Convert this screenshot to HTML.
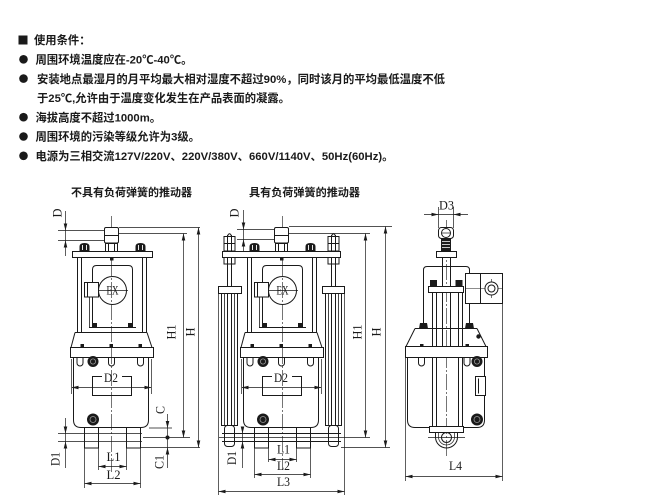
<!DOCTYPE html>
<html><head><meta charset="utf-8">
<style>
html,body{margin:0;padding:0;background:#fff;}
svg{display:block;}
.t{font-family:"Liberation Sans","Noto Sans CJK SC",sans-serif;font-size:11.3px;font-weight:bold;fill:#1a1a1a;}
.tt{font-family:"Liberation Sans","Noto Sans CJK SC",sans-serif;font-size:11px;font-weight:bold;fill:#1a1a1a;}
.s{font-family:"Liberation Serif","DejaVu Serif",serif;font-size:13px;fill:#1a1a1a;}
</style></head><body>
<svg width="650" height="504" viewBox="0 0 650 504" xmlns="http://www.w3.org/2000/svg">
<defs>
<g id="lower" fill="none" stroke="#1a1a1a" stroke-width="1">
 <path d="M75,332.5 H147 M75,332.5 L71,347.5 M147,332.5 L152,347.5"/>
 <rect x="70.5" y="347.5" width="83" height="10"/>
 <path d="M77,357.5 V363 A3,3 0 0 0 83,363 V357.5 M108.5,357.5 V363 A3,3 0 0 0 114.5,363 V357.5 M137.5,357.5 V363 A3,3 0 0 0 143.5,363 V357.5"/>
 <path d="M73.5,357.5 V420 Q73.5,427.5 81,427.5 H141 Q148.5,427.5 148.5,420 V357.5"/>
 <path d="M102,376.5 H92.5 V395.5 H131.5 V376.5 H122"/>
 <path d="M72,387.5 H151 M71.5,359 V394 M151.5,359 V394" stroke-width="0.7"/>
 <rect x="84.5" y="427.5" width="14" height="20.5"/>
 <rect x="126.5" y="427.5" width="14" height="20.5"/>
 <g fill="#1a1a1a" stroke="none">
  <rect x="80.5" y="344" width="3.5" height="3.5"/>
  <rect x="109.5" y="344" width="3.5" height="3.5"/>
  <rect x="138.5" y="344" width="3.5" height="3.5"/>
  <polygon points="78.5,385.7 78.5,389.3 71.5,387.5"/>
  <polygon points="144.5,385.7 144.5,389.3 151.5,387.5"/>
  <circle cx="93" cy="361.5" r="5.5"/>
  <circle cx="93" cy="419.5" r="6"/>
 </g>
 <circle cx="93" cy="361.5" r="2.6" stroke="#999" stroke-width="0.8"/>
 <circle cx="93" cy="419.5" r="3" stroke="#999" stroke-width="0.8"/>
</g>
<g id="frame" fill="none" stroke="#1a1a1a" stroke-width="1">
 <path d="M77.5,257.5 V332.5 M81.5,257.5 V332.5 M142.5,257.5 V332.5 M146.5,257.5 V332.5"/>
 <path d="M92.5,327.5 V269.5 Q92.5,265.5 96.5,265.5 H128.5 Q132.5,265.5 132.5,269.5 V327.5"/>
 <path d="M89.5,297 V327.5" stroke-width="0.8"/>
 <path d="M89,327.5 H136"/>
 <circle cx="112.5" cy="290.5" r="14"/>
 <path d="M84,290.5 H128" stroke-width="0.7"/>
 <rect x="84.5" y="282.5" width="14" height="14.5" fill="#fff"/>
 <path d="M87.5,282.5 V297"/>
 <rect x="104.5" y="227.5" width="14" height="15.5" rx="1.5" fill="#fff"/>
 <path d="M104.5,235.5 H118.5"/>
 <rect x="105.5" y="243.5" width="12" height="8" fill="#fff"/>
 <path d="M108.5,243.5 V251.5 M114.5,243.5 V251.5"/>
 <g fill="#1a1a1a" stroke="none">
  <rect x="93" y="323" width="4" height="4"/>
  <rect x="128" y="323" width="4" height="4"/>
  <rect x="110" y="257.5" width="3.5" height="3"/>
  <path d="M79.5,251 V246.5 Q79.5,243 84.5,243 Q89.5,243 89.5,246.5 V251 Z"/>
  <path d="M135.5,251 V246.5 Q135.5,243 140.5,243 Q145.5,243 145.5,246.5 V251 Z"/>
 </g>
 <path d="M82.5,245 V250 M86.5,245 V250 M138.5,245 V250 M142.5,245 V250" stroke="#fff" stroke-width="0.9"/>
</g>
</defs>

<!-- ===== Header text ===== -->
<rect x="18.5" y="35.5" width="9" height="9" fill="#1a1a1a"/>
<text class="t" x="34" y="44.2">使用条件：</text>
<g fill="#1a1a1a">
<circle cx="23.5" cy="59.3" r="4.3"/>
<circle cx="23.5" cy="78.6" r="4.3"/>
<circle cx="23.5" cy="117.2" r="4.3"/>
<circle cx="23.5" cy="136.5" r="4.3"/>
<circle cx="23.5" cy="155.8" r="4.3"/>
</g>
<text class="t" x="35.5" y="63.5">周围环境温度应在-20℃-40℃。</text>
<text class="t" x="37" y="82.8" textLength="408" lengthAdjust="spacingAndGlyphs">安装地点最湿月的月平均最大相对湿度不超过90%，同时该月的平均最低温度不低</text>
<text class="t" x="37" y="102.1">于25℃,允许由于温度变化发生在产品表面的凝露。</text>
<text class="t" x="35.5" y="121.4">海拔高度不超过1000m。</text>
<text class="t" x="35.5" y="140.7">周围环境的污染等级允许为3级。</text>
<text class="t" x="35.5" y="160">电源为三相交流127V/220V、220V/380V、660V/1140V、50Hz(60Hz)。</text>

<!-- titles -->
<text class="tt" x="71" y="196" textLength="121" lengthAdjust="spacingAndGlyphs">不具有负荷弹簧的推动器</text>
<text class="tt" x="249" y="196" textLength="111" lengthAdjust="spacingAndGlyphs">具有负荷弹簧的推动器</text>

<!-- ===== Drawing 1 ===== -->
<g fill="none" stroke="#1a1a1a">
 <line x1="111.5" y1="216" x2="111.5" y2="472" stroke-width="0.6" stroke-dasharray="16 2 2 2"/>
 <g stroke-width="0.7">
  <path d="M58,230.5 H104 M58,240.5 H104 M65.5,211 V256"/>
  <path d="M119,227.5 H200 M119,233.5 H187 M183.5,233.5 V437.5 M198.5,227.5 V447.5"/>
  <path d="M58,433.5 H142 M58,441.5 H142 M65.5,418 V468"/>
  <path d="M149,428 H172 M143,437.5 H190 M141,447.5 H200 M167.5,414 V468"/>
  <path d="M98.5,448 V470 M126.5,448 V470 M84.5,448 V488 M140.5,448 V488"/>
  <path d="M98.5,466.5 H126.5 M84.5,483.5 H140.5"/>
 </g>
 <rect x="72.5" y="251.5" width="80" height="6" fill="#fff" stroke-width="1"/>
</g>
<use href="#lower"/>
<use href="#frame"/>
<g fill="#1a1a1a">
 <polygon points="63.7,223.5 67.3,223.5 65.5,230.5"/>
 <polygon points="63.7,247.5 67.3,247.5 65.5,240.5"/>
 <polygon points="181.7,240.5 185.3,240.5 183.5,233.5"/>
 <polygon points="181.7,430.5 185.3,430.5 183.5,437.5"/>
 <polygon points="196.7,234.5 200.3,234.5 198.5,227.5"/>
 <polygon points="196.7,440.5 200.3,440.5 198.5,447.5"/>
 <polygon points="165.7,421 169.3,421 167.5,428"/>
 <polygon points="165.7,454.5 169.3,454.5 167.5,447.5"/>
 <circle cx="167.5" cy="437.5" r="2"/>
 <polygon points="63.7,426.5 67.3,426.5 65.5,433.5"/>
 <polygon points="63.7,448.5 67.3,448.5 65.5,441.5"/>
 <polygon points="105.5,464.7 105.5,468.3 98.5,466.5"/>
 <polygon points="119.5,464.7 119.5,468.3 126.5,466.5"/>
 <polygon points="91.5,481.7 91.5,485.3 84.5,483.5"/>
 <polygon points="133.5,481.7 133.5,485.3 140.5,483.5"/>
</g>
<text class="s" x="106.5" y="294.5" textLength="12" lengthAdjust="spacingAndGlyphs">EX</text>
<text class="s" x="104" y="382" textLength="14" lengthAdjust="spacingAndGlyphs">D2</text>
<text class="s" x="106.5" y="461" textLength="14" lengthAdjust="spacingAndGlyphs">L1</text>
<text class="s" x="106.5" y="479" textLength="14" lengthAdjust="spacingAndGlyphs">L2</text>
<text class="s" transform="translate(57,213) rotate(-90)" x="-4.5" y="4.3" textLength="9" lengthAdjust="spacingAndGlyphs">D</text>
<text class="s" transform="translate(55,459) rotate(-90)" x="-7" y="4.3" textLength="14" lengthAdjust="spacingAndGlyphs">D1</text>
<text class="s" transform="translate(171,332) rotate(-90)" x="-7.5" y="4.3" textLength="15" lengthAdjust="spacingAndGlyphs">H1</text>
<text class="s" transform="translate(190,332) rotate(-90)" x="-4.5" y="4.3" textLength="9" lengthAdjust="spacingAndGlyphs">H</text>
<text class="s" transform="translate(160,410) rotate(-90)" x="-4" y="4.3" textLength="8" lengthAdjust="spacingAndGlyphs">C</text>
<text class="s" transform="translate(159,462) rotate(-90)" x="-7" y="4.3" textLength="14" lengthAdjust="spacingAndGlyphs">C1</text>

<!-- ===== Drawing 2 ===== -->
<g fill="none" stroke="#1a1a1a">
 <line x1="282.5" y1="216" x2="282.5" y2="470" stroke-width="0.6" stroke-dasharray="16 2 2 2"/>
 <g stroke-width="0.7">
  <path d="M237,229.5 H274 M237,239.5 H274 M243.5,210 V256"/>
  <path d="M289,226.5 H392 M289,233.5 H370 M365.5,233.5 V437.5 M385.5,226.5 V447.5"/>
  <path d="M219,437.5 H370 M341,447.5 H390 M242.5,430 V468"/>
  <path d="M268.5,448 V462 M296.5,448 V462 M254.5,448 V478 M310.5,448 V478 M218.5,294 V495 M344.5,294 V495"/>
  <path d="M268.5,459.5 H296.5 M254.5,474.5 H310.5 M218.5,491.5 H344.5"/>
 </g>
 <path d="M227.5,235 V426 M231.5,235 V426 M331.5,235 V426 M335.5,235 V426" stroke-width="1"/>
 <path d="M227.5,236 Q229.5,231.5 231.5,236 M331.5,236 Q333.5,231.5 335.5,236" stroke-width="1"/>
 <rect x="221.5" y="293.5" width="16" height="132" stroke-width="1"/>
 <rect x="325.5" y="293.5" width="16" height="132" stroke-width="1"/>
 <path d="M224.5,293.5 V425.5 M234.5,293.5 V425.5 M328.5,293.5 V425.5 M338.5,293.5 V425.5" stroke-width="0.8"/>
 <rect x="218.5" y="286.5" width="23" height="7" fill="#fff" stroke-width="1"/>
 <rect x="322.5" y="286.5" width="22" height="7" fill="#fff" stroke-width="1"/>
 <g stroke-width="1" fill="#fff">
  <rect x="224" y="236.5" width="11" height="7"/>
  <rect x="224" y="243.5" width="11" height="7.5"/>
  <rect x="224" y="257.5" width="11" height="6.5"/>
  <rect x="328" y="236.5" width="11" height="7"/>
  <rect x="328" y="243.5" width="11" height="7.5"/>
  <rect x="328" y="257.5" width="11" height="6.5"/>
 </g>
 <path d="M227.5,236.5 V264 M231.5,236.5 V264 M331.5,236.5 V264 M335.5,236.5 V264" stroke-width="1"/>
 <rect x="222.5" y="251.5" width="118" height="6" fill="#fff" stroke-width="1"/>
 <path d="M222,433.5 H341 M222,441.5 H341" stroke-width="1"/>
 <rect x="224.5" y="425.5" width="10" height="21" rx="3" stroke-width="1"/>
 <rect x="328.5" y="425.5" width="10" height="21" rx="3" stroke-width="1"/>
</g>
<use href="#lower" x="170"/>
<use href="#frame" x="170"/>
<g fill="#1a1a1a">
 <polygon points="241.7,222.5 245.3,222.5 243.5,229.5"/>
 <polygon points="241.7,246.5 245.3,246.5 243.5,239.5"/>
 <polygon points="363.7,240.5 367.3,240.5 365.5,233.5"/>
 <polygon points="363.7,430.5 367.3,430.5 365.5,437.5"/>
 <polygon points="383.7,233.5 387.3,233.5 385.5,226.5"/>
 <polygon points="383.7,440.5 387.3,440.5 385.5,447.5"/>
 <polygon points="240.7,426.5 244.3,426.5 242.5,433.5"/>
 <polygon points="240.7,448.5 244.3,448.5 242.5,441.5"/>
 <polygon points="275.5,457.7 275.5,461.3 268.5,459.5"/>
 <polygon points="289.5,457.7 289.5,461.3 296.5,459.5"/>
 <polygon points="261.5,472.7 261.5,476.3 254.5,474.5"/>
 <polygon points="303.5,472.7 303.5,476.3 310.5,474.5"/>
 <polygon points="225.5,489.7 225.5,493.3 218.5,491.5"/>
 <polygon points="337.5,489.7 337.5,493.3 344.5,491.5"/>
</g>
<text class="s" x="276.5" y="294.5" textLength="12" lengthAdjust="spacingAndGlyphs">EX</text>
<text class="s" x="274" y="382" textLength="14" lengthAdjust="spacingAndGlyphs">D2</text>
<text class="s" x="277" y="453.5" textLength="13" lengthAdjust="spacingAndGlyphs">L1</text>
<text class="s" x="277" y="470" textLength="13" lengthAdjust="spacingAndGlyphs">L2</text>
<text class="s" x="277" y="486" textLength="13" lengthAdjust="spacingAndGlyphs">L3</text>
<text class="s" transform="translate(234,213) rotate(-90)" x="-4.5" y="4.3" textLength="9" lengthAdjust="spacingAndGlyphs">D</text>
<text class="s" transform="translate(231.5,458) rotate(-90)" x="-7" y="4.3" textLength="14" lengthAdjust="spacingAndGlyphs">D1</text>
<text class="s" transform="translate(357,332) rotate(-90)" x="-7.5" y="4.3" textLength="15" lengthAdjust="spacingAndGlyphs">H1</text>
<text class="s" transform="translate(376,332) rotate(-90)" x="-4.5" y="4.3" textLength="9" lengthAdjust="spacingAndGlyphs">H</text>

<!-- ===== Drawing 3 (side view) ===== -->
<g fill="none" stroke="#1a1a1a" stroke-width="1">
 <line x1="446.5" y1="220" x2="446.5" y2="456" stroke-width="0.6" stroke-dasharray="16 2 2 2"/>
 <g stroke-width="0.7">
  <path d="M424,214.5 H468 M438.5,207 V228 M453.5,207 V228"/>
  <path d="M405.5,358 V481 M502.5,303 V481 M405.5,476.5 H502.5"/>
  <path d="M428,437.5 H465"/>
 </g>
 <path d="M423.5,326 V270 Q423.5,266.5 427,266.5 H466 Q469.5,266.5 469.5,270 V273.5 M469.5,303.5 V326"/>
 <rect x="465.5" y="273.5" width="37" height="30" fill="#fff"/>
 <path d="M480.5,273.5 V303.5"/>
 <path d="M466,288.5 H502 M491.5,279 V298" stroke-width="0.6"/>
 <circle cx="491.5" cy="288.5" r="6.5" fill="#fff"/>
 <circle cx="491.5" cy="288.5" r="3.5"/>
 <path d="M442.5,257.5 V346 M450.5,257.5 V346"/>
 <path d="M432.5,292.5 V426 M436.5,292.5 V426 M458.5,292.5 V426 M462.5,292.5 V426"/>
 <rect x="428.5" y="286.5" width="35" height="6" fill="#fff"/>
 <rect x="438.5" y="227.5" width="15" height="11" rx="3" fill="#fff"/>
 <circle cx="446" cy="233" r="4.5"/>
 <path d="M441.5,233 H450.5" stroke-width="0.7"/>
 <rect x="436.5" y="251.5" width="20" height="6" fill="#fff"/>
 <path d="M415,328.5 H477 M415,328.5 L406,346.5 M477,328.5 L486,346.5"/>
 <rect x="405.5" y="346.5" width="82" height="11" fill="#fff"/>
 <path d="M418.5,357.5 V363 A3,3 0 0 0 424.5,363 V357.5 M464,357.5 V363 A3,3 0 0 0 470,363 V357.5"/>
 <path d="M407.5,357.5 V420 Q407.5,427.5 415,427.5 H477 Q484.5,427.5 484.5,420 V357.5"/>
 <path d="M432.5,357.5 V426 M436.5,357.5 V426 M458.5,357.5 V426 M462.5,357.5 V426"/>
 <rect x="475.5" y="376.5" width="10" height="19" fill="#fff"/>
 <path d="M478.5,378.5 V393.5"/>
 <rect x="429.5" y="426.5" width="34" height="6" fill="#fff"/>
 <path d="M435.5,432.5 V437 A11,11 0 0 0 457.5,437 V432.5"/>
 <path d="M438.5,432.5 V437 A8,8 0 0 0 454.5,437 V432.5" stroke-width="0.7"/>
 <circle cx="446.5" cy="437.5" r="5"/>
</g>
<g fill="#1a1a1a">
 <rect x="441" y="238.5" width="10" height="13"/>
 <rect x="430" y="280" width="7" height="6.5"/>
 <rect x="455.5" y="280" width="7" height="6.5"/>
 <polygon points="419,328.5 428,328.5 427,323 420,323"/>
 <polygon points="465,328.5 474,328.5 473,323 466,323"/>
 <circle cx="478.5" cy="336.5" r="2.2"/>
 <rect x="420" y="344" width="3.5" height="3"/>
 <rect x="465.5" y="344" width="3.5" height="3"/>
 <circle cx="477" cy="361.5" r="5.5"/>
 <circle cx="477" cy="419.5" r="6"/>
 <polygon points="431.5,212.7 431.5,216.3 438.5,214.5"/>
 <polygon points="460.5,212.7 460.5,216.3 453.5,214.5"/>
 <polygon points="412.5,474.7 412.5,478.3 405.5,476.5"/>
 <polygon points="495.5,474.7 495.5,478.3 502.5,476.5"/>
</g>
<path d="M442,241.5 H450 M442,244.5 H450 M442,247.5 H450" stroke="#fff" stroke-width="0.8"/>
<circle cx="477" cy="361.5" r="2.6" fill="none" stroke="#999" stroke-width="0.8"/>
<circle cx="477" cy="419.5" r="3" fill="none" stroke="#999" stroke-width="0.8"/>
<text class="s" x="439" y="209.5" textLength="15" lengthAdjust="spacingAndGlyphs">D3</text>
<text class="s" x="449" y="470" textLength="13" lengthAdjust="spacingAndGlyphs">L4</text>
</svg>
</body></html>
